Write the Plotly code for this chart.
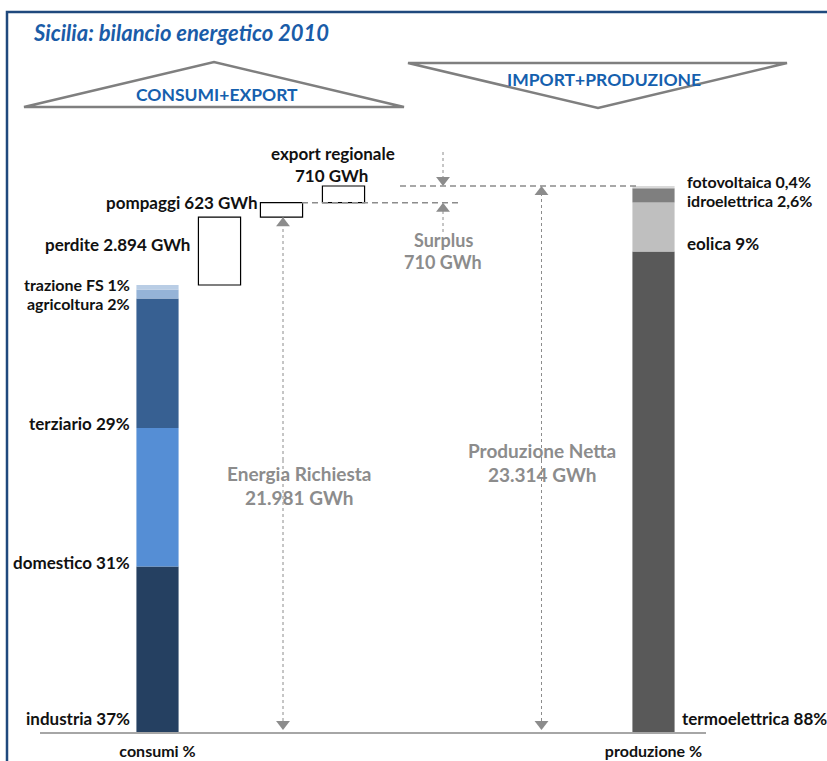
import plotly.graph_objects as go
import numpy as np

# ---------------- data ----------------
consumi_labels = ["industria", "domestico", "terziario", "agricoltura", "trazione FS"]
consumi_pct = [37, 31, 29, 2, 1]
consumi_colors = ["#254061", "#558ED5", "#376092", "#95B3D7", "#B9CDE5"]

produzione_labels = ["termoelettrica", "eolica", "idroelettrica", "fotovoltaica"]
produzione_pct = [88, 9, 2.6, 0.4]
produzione_pct_txt = ["88%", "9%", "2,6%", "0,4%"]
produzione_colors = ["#595959", "#BFBFBF", "#7F7F7F", "#D9D9D9"]

energia_richiesta = 21981   # GWh
perdite = 2894              # GWh
pompaggi = 623              # GWh
export_regionale = 710      # GWh
produzione_netta = 23314    # GWh
surplus = 710               # GWh

categories = ["consumi %", "produzione %"]

# ---------------- geometry helpers ----------------
W, H = 827, 761
ML, MR, MT, MB = 40, 121, 12, 29
PLOT_H = H - MT - MB
BASE_PY = H - MB
UNIT_PX = 62.0
X0_PX = 157.5
GWH_PER_PX = produzione_netta / 546.0
YMAX = PLOT_H * GWH_PER_PX
XMIN = (ML - X0_PX) / UNIT_PX
XMAX = XMIN + (W - ML - MR) / UNIT_PX


def px2x(px):
    return (px - X0_PX) / UNIT_PX


def py2y(py):
    return (BASE_PY - py) * GWH_PER_PX


def pxp(px):
    return (px - ML) / (W - ML - MR)


def pyp(py):
    return (BASE_PY - py) / PLOT_H


consumi_tot = energia_richiesta - perdite
consumi_vals = np.array(consumi_pct) / 100.0 * consumi_tot
consumi_base = np.concatenate([[0], np.cumsum(consumi_vals)[:-1]])
prod_vals = np.array(produzione_pct) / 100.0 * produzione_netta
prod_base = np.concatenate([[0], np.cumsum(prod_vals)[:-1]])

BW = 0.68
fig = go.Figure()

for lab, v, b, c in zip(consumi_labels, consumi_vals, consumi_base, consumi_colors):
    fig.add_trace(go.Bar(x=[0], y=[v], base=[b], width=BW, marker=dict(color=c, line=dict(width=0)),
                         name=lab, showlegend=False))
for lab, v, b, c in zip(produzione_labels, prod_vals, prod_base, produzione_colors):
    fig.add_trace(go.Bar(x=[8], y=[v], base=[b], width=BW, marker=dict(color=c, line=dict(width=0)),
                         name=lab, showlegend=False))

# floating boxes
boxes = [(1, consumi_tot, perdite), (2, energia_richiesta, pompaggi),
         (3, energia_richiesta + pompaggi, export_regionale)]
for xk, b, v in boxes:
    fig.add_trace(go.Bar(x=[xk], y=[v], base=[b], width=BW,
                         marker=dict(color="white", line=dict(color="black", width=1.2)),
                         showlegend=False))

GRAY = "#8C8C8C"
# dashed reference lines
top_level = energia_richiesta + pompaggi + export_regionale
mid_level = energia_richiesta + pompaggi
fig.add_trace(go.Scatter(x=[px2x(400), px2x(637)], y=[top_level, top_level], mode="lines",
                         line=dict(color=GRAY, width=1.5, dash="6px,4px"), showlegend=False))
fig.add_trace(go.Scatter(x=[px2x(302), px2x(462)], y=[mid_level, mid_level], mode="lines",
                         line=dict(color=GRAY, width=1.5, dash="6px,4px"), showlegend=False))

# dotted arrows
R = 6  # marker radius px


def arrow(xpx, y_from, y_to):
    x = px2x(xpx)
    fig.add_trace(go.Scatter(x=[x, x], y=[y_from, y_to], mode="lines",
                             line=dict(color=GRAY, width=1, dash="dot"), showlegend=False))
    up = y_to > y_from
    yc = y_to - R * GWH_PER_PX if up else y_to + R * GWH_PER_PX
    fig.add_trace(go.Scatter(x=[x], y=[yc], mode="markers",
                             marker=dict(symbol="triangle-up" if up else "triangle-down",
                                         size=2 * R, color=GRAY, line=dict(width=0)),
                             showlegend=False))


# Energia Richiesta double arrow
mid_e = py2y(460)
arrow(283, mid_e, energia_richiesta)
arrow(283, mid_e, py2y(730))
# Produzione Netta double arrow
arrow(541.5, mid_e, produzione_netta)
arrow(541.5, mid_e, py2y(730))
# Surplus arrows
arrow(443, py2y(152), top_level)
arrow(443, py2y(232), mid_level)

# ---------------- annotations ----------------
ann = []
BLACK = "#111111"
LS = 17


def txt(text, xpx, ypx, xanchor="center", color=BLACK, size=LS):
    ann.append(dict(text=text, x=px2x(xpx), y=py2y(ypx), xref="x", yref="y", showarrow=False,
                    xanchor=xanchor, yanchor="middle", borderpad=0,
                    font=dict(family="Lato", size=size, color=color)))


left_y = [718, 562, 423, 303, 284]
left_size = [LS, LS, LS, 16, 16]
for lab, p, ypx, s in zip(consumi_labels, consumi_pct, left_y, left_size):
    txt(f"<b>{lab} {p}%</b>", 131, ypx, "right", size=s)
right_y = [718, 243, 200, 181]
right_x = [681, 686, 686, 686]
right_size = [LS, LS, 16, 16]
for lab, p, ypx, xpx, s in zip(produzione_labels, produzione_pct_txt, right_y, right_x, right_size):
    txt(f"<b>{lab} {p}</b>", xpx, ypx, "left", size=s)

txt("<b>perdite 2.894 GWh</b>", 191, 244, "right")
txt(f"<b>pompaggi {pompaggi} GWh</b>", 259, 202, "right")
txt("<b>export regionale</b>", 333, 153)
txt(f"<b>{export_regionale} GWh</b>", 331, 175)
txt("<b>Surplus</b>", 443, 240, color=GRAY, size=18)
txt(f"<b>{surplus} GWh</b>", 443, 262, color=GRAY, size=18)
txt("<b>Energia Richiesta</b>", 299, 473, color=GRAY, size=19)
txt("<b>21.981 GWh</b>", 299, 497, color=GRAY, size=19)
txt("<b>Produzione Netta</b>", 542, 450, color=GRAY, size=19)
txt("<b>23.314 GWh</b>", 542, 474, color=GRAY, size=19)

BLUE = "#1560AE"
ann.append(dict(text="<b><i>Sicilia: bilancio energetico 2010</i></b>", x=pxp(31), y=pyp(32),
                xref="paper", yref="paper", xanchor="left", yanchor="middle", showarrow=False,
                font=dict(family="Lato", size=22, color="#1A5CA8")))
ann.append(dict(text="<b>CONSUMI+EXPORT</b>", x=pxp(217), y=pyp(94), xref="paper", yref="paper",
                showarrow=False, xanchor="center", yanchor="middle",
                font=dict(family="Lato", size=17.5, color=BLUE)))
ann.append(dict(text="<b>IMPORT+PRODUZIONE</b>", x=pxp(604), y=pyp(79), xref="paper", yref="paper",
                showarrow=False, xanchor="center", yanchor="middle",
                font=dict(family="Lato", size=17.5, color=BLUE)))

shapes = []
# frame
shapes.append(dict(type="rect", xref="paper", yref="paper", x0=pxp(7), y0=pyp(800), x1=pxp(880), y1=pyp(12),
                   line=dict(color="#1F497D", width=2.5), fillcolor="rgba(0,0,0,0)", layer="below"))


def tri(pts):
    path = "M " + " L ".join(f"{pxp(a)},{pyp(b)}" for a, b in pts) + " Z"
    return dict(type="path", xref="paper", yref="paper", path=path,
                line=dict(color="#7F7F7F", width=2.5), fillcolor="rgba(0,0,0,0)", layer="below")


shapes.append(tri([(24, 107), (214, 62), (404, 107)]))
shapes.append(tri([(408, 63), (787, 63), (598, 108)]))

fig.update_layout(
    width=W, height=H, autosize=False,
    margin=dict(l=ML, r=MR, t=MT, b=MB, autoexpand=False),
    paper_bgcolor="white", plot_bgcolor="white",
    barmode="overlay",
    showlegend=False,
    annotations=ann,
    shapes=shapes,
    xaxis=dict(range=[XMIN, XMAX], showgrid=False, zeroline=False, showline=True, automargin=False,
               linecolor="#A6A6A6", linewidth=2, tickvals=[0, 8], ticktext=[f"<b>{c}</b>" for c in categories],
               ticks="", ticklabelstandoff=4,
               tickfont=dict(family="Lato", size=16, color=BLACK), fixedrange=True),
    yaxis=dict(range=[0, YMAX], visible=False, fixedrange=True, automargin=False),
)

fig.write_html("out.html", config={"responsive": False})
